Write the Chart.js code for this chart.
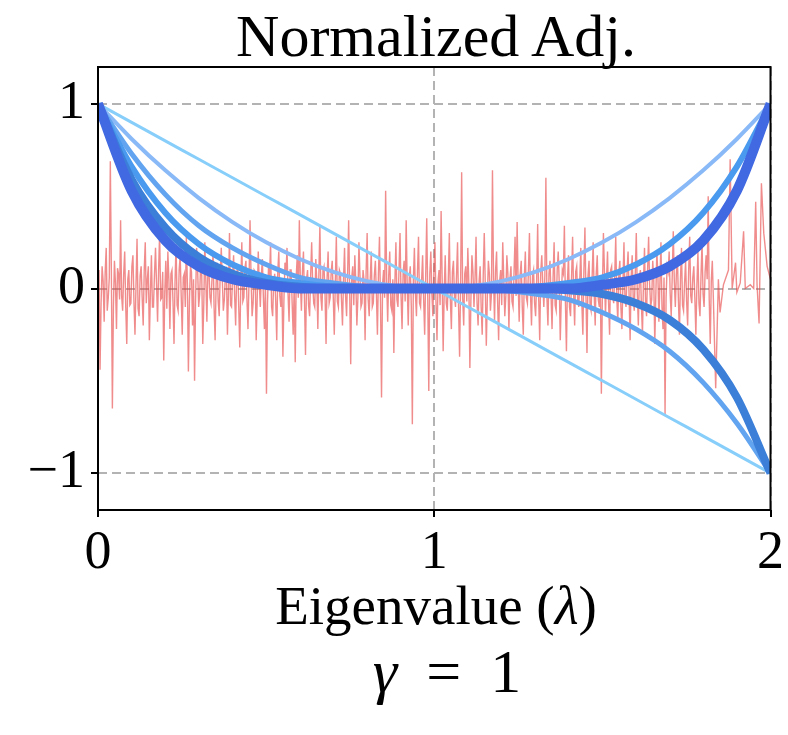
<!DOCTYPE html>
<html>
<head>
<meta charset="utf-8">
<script src="https://cdn.jsdelivr.net/npm/chart.js@4.4.0/dist/chart.umd.min.js"></script>
<style>
  body { margin: 0; background: #fff; }
  #wrap { position: relative; width: 788px; height: 735px; }
  canvas { position: absolute; left: 0; top: 0; }
  .txt { position: absolute; font-family: "Liberation Serif", "Times New Roman", serif; color: #000; white-space: nowrap; transform: translateX(-50%); line-height: 1; }
  #title { left: 436px; top: 6px; font-size: 60px; }
  #xlabel { left: 436px; top: 578px; font-size: 55px; }
  #gamma { left: 447px; top: 640px; font-size: 62px; word-spacing: 0.22em; }
</style>
</head>
<body>
<div id="wrap">
  <canvas id="filterChart" width="788" height="735"></canvas>
  <div class="txt" id="title">Normalized Adj.</div>
  <div class="txt" id="xlabel">Eigenvalue (<i>λ</i>)</div>
  <div class="txt" id="gamma"><i>γ</i> = 1</div>
</div>
<script>
// filter responses sampled along the eigenvalue axis
const curveLambda = [0, 0.1, 0.2, 0.3, 0.4, 0.5, 0.6, 0.7, 0.8, 0.9, 1.0, 1.1, 1.2, 1.3, 1.4, 1.5, 1.6, 1.7, 1.8, 1.9, 2.0];
const filterK1 = [1, 0.9, 0.8, 0.7, 0.6, 0.5, 0.4, 0.3, 0.2, 0.1, 0, -0.1, -0.2, -0.3, -0.4, -0.5, -0.6, -0.7, -0.8, -0.9, -1];
const filterK2 = [1, 0.81, 0.64, 0.49, 0.36, 0.25, 0.16, 0.09, 0.04, 0.01, 0, 0.01, 0.04, 0.09, 0.16, 0.25, 0.36, 0.49, 0.64, 0.81, 1];
const filterK3 = [1, 0.73, 0.51, 0.34, 0.22, 0.13, 0.06, 0.03, 0.01, 0, 0, 0, -0.01, -0.03, -0.06, -0.13, -0.22, -0.34, -0.51, -0.73, -1];
const filterK4 = [1, 0.66, 0.41, 0.24, 0.13, 0.06, 0.03, 0.01, 0, 0, 0, 0, 0, 0.01, 0.03, 0.06, 0.13, 0.24, 0.41, 0.66, 1];
const filterK5 = [1, 0.59, 0.33, 0.17, 0.08, 0.03, 0.01, 0, 0, 0, 0, 0, 0, 0, -0.01, -0.03, -0.08, -0.17, -0.33, -0.59, -1];
const filterK6 = [1, 0.53, 0.26, 0.12, 0.05, 0.02, 0, 0, 0, 0, 0, 0, 0, 0, 0, 0.02, 0.05, 0.12, 0.26, 0.53, 1];

// spectral signal, evenly spread from 0 to signalDenseEnd, then a sparse tail
const signalDenseEnd = 1.83;
const signalDense = [
  0.05, 0.1, -0.44, -0.08, 0.12, 0.04, -0.18, 0.09, 0.22, -0.12, -0.05, 0.06, 0.69, 0.1, -0.65, -0.1, 0.15, 0.03, -0.22, 0.11, 0.08, -0.06, 0.37, -0.04, -0.12, 0.08, 0.2, -0.1, -0.3, 0.05, 0.1, -0.09, -0.08, 0.12, 0.18, -0.07, -0.25, 0.02, 0.27, -0.11,
  -0.15, 0.07, 0.12, -0.05, -0.2, 0.1, 0.25, -0.08, 0.05, 0.12, -0.28, -0.03, 0.18, -0.1, -0.1, 0.08, 0.22, 0.02, -0.18, 0.1, 0.3, -0.06, -0.05, 0.09, -0.39, -0.02, 0.15, -0.11, 0.2, 0.05, -0.22, 0.08, 0.1, -0.07, -0.3, 0.04, 0.24, -0.09, -0.12, 0.1,
  0.18, -0.04, -0.25, 0.06, 0.08, -0.1, 0.28, 0.03, -0.45, -0.07, 0.12, 0.09, -0.2, 0.05, -0.5, -0.06, 0.22, 0.1, -0.1, -0.03, 0.15, 0.07, -0.3, -0.08, 0.25, 0.04, -0.18, 0.11, 0.1, -0.05, -0.08, 0.06, 0.2, -0.1, -0.28, 0.03, 0.14, -0.07, -0.15, 0.09,
  0.22, 0.05, -0.12, -0.06, 0.08, 0.1, -0.25, -0.02, 0.3, -0.09, -0.1, 0.07, 0.18, -0.04, -0.2, 0.08, 0.12, -0.1, -0.32, 0.02, 0.25, -0.07, -0.05, 0.11, 0.15, -0.06, -0.22, 0.04, 0.37, 0.06, -0.15, -0.08, 0.1, 0.09, -0.28, -0.05, 0.2, 0.03, -0.1, 0.07,
  0.16, -0.05, -0.22, 0.04, -0.57, -0.08, 0.12, 0.06, 0.25, -0.1, -0.15, 0.03, 0.08, -0.07, -0.28, 0.09, 0.2, -0.04, -0.1, 0.05, -0.37, -0.06, 0.14, 0.08, 0.22, -0.03, -0.18, 0.1, 0.1, -0.08, -0.25, 0.02, -0.4, 0.07, 0.18, -0.05, 0.37, 0.04, -0.12, 0.09,
  0.2, -0.06, -0.36, 0.05, 0.1, -0.09, -0.15, 0.07, 0.25, 0.02, -0.08, -0.1, 0.16, 0.04, -0.22, 0.08, 0.34, -0.05, -0.12, 0.1, 0.12, -0.03, -0.3, 0.06, 0.2, -0.08, -0.05, 0.09, 0.15, -0.04, -0.25, 0.03, 0.28, -0.07, -0.1, 0.1, 0.08, -0.06, -0.2, 0.05,
  0.22, -0.04, -0.15, 0.08, 0.37, -0.02, -0.41, 0.06, 0.12, -0.09, 0.18, 0.03, -0.2, -0.05, 0.25, 0.07, -0.1, -0.08, 0.1, 0.04, -0.28, 0.09, 0.3, -0.06, -0.15, 0.05, 0.2, -0.1, -0.08, 0.07, 0.15, -0.03, -0.25, 0.08, 0.28, -0.07, -0.59, 0.02, 0.1, -0.05,
  0.53, 0.04, -0.18, 0.07, 0.2, -0.09, -0.12, 0.05, -0.35, 0.03, 0.25, -0.06, -0.1, 0.1, 0.3, -0.04, -0.22, 0.08, 0.15, -0.07, 0.37, 0.02, -0.2, 0.06, 0.12, -0.1, -0.735, 0.05, 0.22, -0.03, -0.15, 0.09, 0.28, -0.08, -0.1, 0.04, 0.18, -0.06, -0.25, 0.07,
  0.38, -0.05, -0.555, 0.08, 0.2, -0.03, -0.15, 0.1, 0.25, -0.07, -0.28, 0.04, 0.1, -0.09, 0.42, 0.06, -0.34, -0.02, 0.18, -0.08, -0.12, 0.05, 0.3, -0.06, -0.22, 0.09, 0.15, -0.04, -0.1, 0.07, 0.25, -0.1, -0.37, 0.03, 0.63, -0.05, -0.2, 0.08, 0.12, -0.07,
  0.22, 0.03, -0.43, -0.06, 0.18, 0.09, -0.1, 0.05, 0.28, -0.08, -0.2, 0.04, 0.12, -0.1, -0.25, 0.07, 0.3, 0.02, -0.31, -0.05, 0.15, 0.08, -0.12, -0.03, 0.64, 0.06, -0.18, 0.1, 0.2, -0.07, -0.28, 0.04, 0.1, -0.09, 0.25, 0.05, -0.15, -0.04, 0.18, 0.08,
  -0.22, 0.05, 0.12, -0.07, -0.1, 0.09, 0.28, -0.04, 0.36, 0.03, -0.18, 0.08, 0.15, -0.1, -0.25, 0.06, 0.2, -0.05, -0.08, 0.1, 0.3, -0.03, -0.2, 0.07, 0.1, -0.08, -0.15, 0.04, 0.35, -0.06, -0.28, 0.09, 0.18, 0.02, -0.1, 0.07, 0.6, -0.05, -0.2, 0.08,
  0.15, -0.04, -0.22, 0.06, 0.25, -0.09, -0.12, 0.1, 0.2, 0.03, -0.28, -0.05, 0.1, 0.08, 0.34, -0.07, -0.34, 0.04, 0.18, -0.1, -0.15, 0.06, 0.28, -0.03, -0.2, 0.09, 0.12, -0.06, -0.1, 0.05, 0.22, -0.08, -0.25, 0.1, 0.33, -0.04, -0.35, 0.07, 0.15, -0.09,
  -0.12, 0.06, 0.25, -0.03, -0.2, 0.08, 0.18, -0.06, -0.1, 0.04, -0.57, -0.02, 0.3, 0.09, -0.15, 0.05, 0.2, -0.07, -0.25, 0.1, 0.12, -0.04, -0.08, 0.07, 0.28, -0.05, -0.18, 0.08, 0.15, -0.1, -0.22, 0.03, 0.25, -0.06, -0.1, 0.09, 0.2, -0.04, -0.28, 0.06,
  0.18, -0.05, -0.12, 0.08, 0.3, -0.03, -0.2, 0.06, 0.1, -0.09, -0.25, 0.04, 0.22, -0.07, -0.15, 0.1, 0.28, 0.02, -0.1, -0.06, 0.15, 0.05, -0.3, -0.04, 0.2, 0.08, -0.18, 0.03, 0.25, -0.1, -0.22, 0.06, -0.68, -0.05, 0.12, 0.09, 0.2, -0.03, -0.15, 0.07,
  0.31, 0.04, -0.1, 0.08, 0.18, -0.06, -0.25, 0.05, 0.22, -0.09, -0.12, 0.03, 0.15, -0.07, -0.2, 0.1, 0.28, -0.04, -0.08, 0.06, 0.12, -0.05, -0.25, 0.02, 0.2, -0.08, -0.15, 0.07, 0.25, -0.03, -0.1, 0.09, 0.18, 0.05, 0.5, -0.06, -0.3, 0.04, 0.15, -0.05
];
const tailLambda = [1.837, 1.845, 1.85, 1.86, 1.875, 1.88, 1.886, 1.896, 1.9, 1.91, 1.92, 1.925, 1.94, 1.95, 1.956, 1.96, 1.966, 1.973, 1.98, 1.99, 2.0];
const tailValues = [-0.54, 0.05, -0.13, 0.02, 0.1, 0.7, 0.0, 0.14, -0.02, 0.03, 0.31, 0.0, 0.02, 0.0, 0.47, 0.02, -0.19, 0.57, 0.3, 0.12, 0.05];

const xTicks = [0, 1, 2];
const yTicks = [-1, 0, 1];

function curvePoints(values) {
  return values.map((v, i) => ({ x: curveLambda[i], y: v }));
}

const signalPoints = signalDense
  .map((v, i) => ({ x: (i * signalDenseEnd) / (signalDense.length - 1), y: v }))
  .concat(tailValues.map((v, i) => ({ x: tailLambda[i], y: v })));

function curveDataset(values, color, width) {
  return {
    data: curvePoints(values),
    borderColor: color,
    borderWidth: width,
    pointRadius: 0,
    fill: false,
    cubicInterpolationMode: "monotone",
  };
}

const framePlugin = {
  id: "frame",
  afterDraw(chart) {
    const { ctx, chartArea: a } = chart;
    ctx.save();
    ctx.strokeStyle = "#000";
    ctx.lineWidth = 2;
    ctx.strokeRect(a.left, a.top, a.right - a.left, a.bottom - a.top);
    ctx.restore();
  },
};

const tickFont = { family: "'Liberation Serif', 'Times New Roman', serif", size: 54 };

new Chart(document.getElementById("filterChart"), {
  type: "line",
  data: {
    datasets: [
      curveDataset(filterK6, "#4169e1", 10),
      curveDataset(filterK5, "#3b7fd9", 8),
      curveDataset(filterK4, "#4a9aef", 6),
      curveDataset(filterK3, "#62a4f0", 5),
      curveDataset(filterK2, "#8ab9f7", 4),
      curveDataset(filterK1, "#87cefa", 3),
      {
        data: signalPoints,
        borderColor: "rgba(230, 70, 70, 0.62)",
        borderWidth: 1.4,
        pointRadius: 0,
        tension: 0,
        fill: false,
      },
    ],
  },
  options: {
    responsive: false,
    animation: false,
    devicePixelRatio: 1,
    layout: { padding: { top: 67, right: 15, bottom: 165, left: 0 } },
    plugins: { legend: { display: false }, tooltip: { enabled: false }, title: { display: false } },
    scales: {
      x: {
        type: "linear",
        min: 0,
        max: 2,
        afterBuildTicks: (axis) => { axis.ticks = xTicks.map((v) => ({ value: v })); },
        afterFit: (axis) => { axis.height = 60; },
        ticks: { color: "#000", font: tickFont, padding: 4, maxRotation: 0, callback: (v) => String(v) },
        grid: { color: "#b3b3b3", lineWidth: 2, tickColor: "#000", tickLength: 7, tickWidth: 2 },
        border: { display: false, dash: [9, 5] },
      },
      y: {
        type: "linear",
        min: -1.2,
        max: 1.2,
        afterBuildTicks: (axis) => { axis.ticks = yTicks.map((v) => ({ value: v })); },
        afterFit: (axis) => { axis.width = 98; },
        ticks: { color: "#000", font: tickFont, padding: 6, callback: (v) => (v < 0 ? "\u2212" + Math.abs(v) : String(v)) },
        grid: { color: "#b3b3b3", lineWidth: 2, tickColor: "#000", tickLength: 7, tickWidth: 2 },
        border: { display: false, dash: [9, 5] },
      },
    },
  },
  plugins: [framePlugin],
});
</script>
</body>
</html>
